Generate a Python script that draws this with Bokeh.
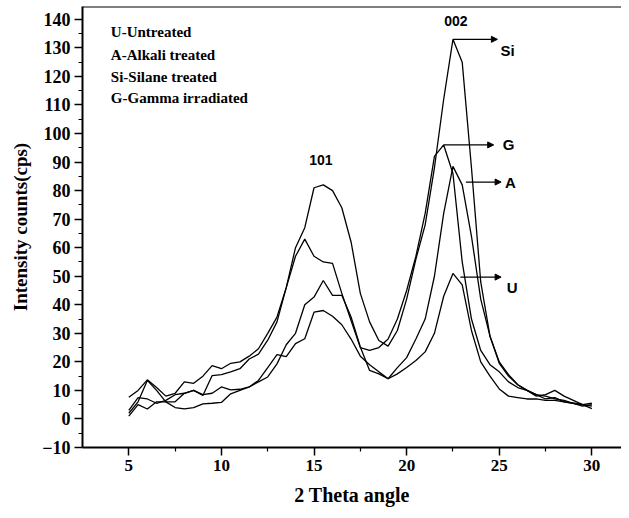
from bokeh.plotting import figure
from bokeh.models import Range1d, Span, Arrow, NormalHead, FixedTicker
from bokeh.core.properties import value
from bokeh.embed import file_html
from bokeh.resources import INLINE

# ---- data ----
theta = [5.0, 5.5, 6.0, 6.5, 7.0, 7.5, 8.0, 8.5, 9.0, 9.5,
         10.0, 10.5, 11.0, 11.5, 12.0, 12.5, 13.0, 13.5, 14.0, 14.5,
         15.0, 15.5, 16.0, 16.5, 17.0, 17.5, 18.0, 18.5, 19.0, 19.5,
         20.0, 20.5, 21.0, 21.5, 22.0, 22.5, 23.0, 23.5, 24.0, 24.5,
         25.0, 25.5, 26.0, 26.5, 27.0, 27.5, 28.0, 28.5, 29.0, 29.5,
         30.0]
si = [2, 6, 13.5, 10, 6, 6, 9, 10, 8.2, 15.2,
      15.5, 16.5, 17.6, 21, 22.7, 27.6, 34, 46, 60, 67,
      81, 82, 80, 74, 62, 44, 34, 27.5, 25.5, 31,
      42, 56, 68, 88, 112, 133, 125, 88, 48, 29,
      20, 15.5, 12, 10, 8.5, 8, 7, 6.5, 5.5, 5,
      4.5]
g = [7.6, 10, 13.7, 11, 8, 9, 13, 12.5, 15, 18.7,
     17.6, 19.5, 20, 22, 24.6, 30, 35.7, 46, 57, 63,
     57, 55, 54.5, 44, 34.5, 25, 24, 25, 28, 35,
     45, 57, 72, 92, 96, 86, 55, 35, 24, 19,
     16.5, 13, 11, 10, 8.5, 7, 7.5, 6, 5.5, 4.5,
     5]
a = [1, 5, 3.5, 6, 6, 4, 3.5, 4, 5.3, 5.5,
     5.8, 8.8, 10, 11.2, 13, 14.7, 19.3, 26, 30, 40,
     42.7, 48.5, 43.3, 43.3, 35.7, 25.2, 17, 15.8, 14.1, 18,
     21.5, 28, 35, 50, 72, 88.5, 82, 64, 42, 29,
     19.5, 15, 12, 10, 8, 8.5, 10, 8, 6.5, 5,
     3.6]
u = [3, 7.5, 7, 5.5, 6.5, 8.5, 9, 10, 8.5, 9,
     11.2, 10.2, 10.4, 11.2, 13.5, 18, 22.5, 21.8, 26.4, 28.1,
     37.4, 38, 36, 33, 28, 22, 19, 16.5, 14.1, 15.8,
     18, 20.5, 23.5, 30, 43, 51, 47, 31, 20, 15,
     10.5, 8, 7.5, 7, 7, 6.5, 6.5, 6, 5.5, 5,
     5.5]

legend_lines = ["U-Untreated", "A-Alkali treated", "Si-Silane treated", "G-Gamma irradiated"]
legend_y = [135.5, 127.4, 119.7, 112.4]

peak_labels = ["101", "002"]
peak_x = [15.37, 22.66]
peak_y = [90.6, 139.3]

arrow_labels = ["Si", "G", "A", "U"]
arrow_x0 = [22.5, 22.0, 23.2, 22.9]
arrow_y = [133, 96, 83, 49.7]
arrow_x1 = [24.9, 24.7, 25.1, 25.1]
label_x = [25.45, 25.5, 25.6, 25.7]
label_y = [129, 96, 83, 46]

y_ticks = list(range(-10, 141, 10))
x_ticks = [5, 10, 15, 20, 25, 30]

# ---- figure ----
p = figure(width=621, height=512, output_backend="svg", toolbar_location=None,
           x_range=Range1d(2.5, 31.6), y_range=Range1d(-10, 144.5),
           min_border_left=82, min_border_right=0, min_border_top=6, min_border_bottom=65)
p.background_fill_color = "white"
p.border_fill_color = "white"
p.outline_line_color = None
p.grid.visible = False

for ys in (si, g, a, u):
    p.line(theta, ys, line_color="black", line_width=1.3)

serif = "Liberation Serif"
sans = "Liberation Sans"

p.xaxis.ticker = FixedTicker(ticks=x_ticks, minor_ticks=[7.5, 12.5, 17.5, 22.5, 27.5])
p.yaxis.ticker = FixedTicker(ticks=y_ticks, minor_ticks=[v + 5 for v in y_ticks[:-1]])

for ax in (p.xaxis[0], p.yaxis[0]):
    ax.axis_line_width = 2
    ax.axis_line_color = "black"
    ax.major_tick_line_width = 1.5
    ax.minor_tick_line_width = 1.2
    ax.major_tick_in = 0
    ax.major_tick_out = 8
    ax.minor_tick_in = 0
    ax.minor_tick_out = 4
    ax.major_label_text_font = serif
    ax.major_label_text_font_style = "bold"
    ax.major_label_text_color = "black"
    ax.axis_label_text_font = serif
    ax.axis_label_text_font_style = "bold"
    ax.axis_label_text_color = "black"

p.xaxis.major_label_text_font_size = "17px"
p.yaxis.major_label_text_font_size = "18px"
p.xaxis.axis_label_text_font_size = "20px"
p.yaxis.axis_label_text_font_size = "19px"
p.xaxis.axis_label = "2 Theta angle"
p.yaxis.axis_label = "Intensity counts(cps)"
p.xaxis.major_label_standoff = 4
p.yaxis.major_label_standoff = 4
p.xaxis.axis_label_standoff = 10
p.yaxis.axis_label_standoff = 8

# top frame line
p.add_layout(Span(location=144.5, dimension="width", line_color="black", line_width=2))

# legend text
p.text(x=[4.03] * len(legend_lines), y=legend_y, text=legend_lines,
       text_font=value(serif), text_font_style="bold", text_font_size="15px",
       text_baseline="middle", text_align="left", text_color="black")

# peak labels
p.text(x=peak_x, y=peak_y, text=peak_labels,
       text_font=value(sans), text_font_style="bold", text_font_size="14px",
       text_baseline="middle", text_align="center", text_color="black")

# arrows
for x0, y0, x1 in zip(arrow_x0, arrow_y, arrow_x1):
    p.add_layout(Arrow(end=NormalHead(size=6, fill_color="black", line_color="black"),
                       x_start=x0, y_start=y0, x_end=x1, y_end=y0,
                       line_color="black", line_width=1.2))

p.text(x=label_x, y=label_y, text=arrow_labels,
       text_font=value(sans), text_font_style="bold", text_font_size="15px",
       text_baseline="middle", text_align="center", text_color="black")

open("out.html", "w").write(file_html(p, INLINE))
